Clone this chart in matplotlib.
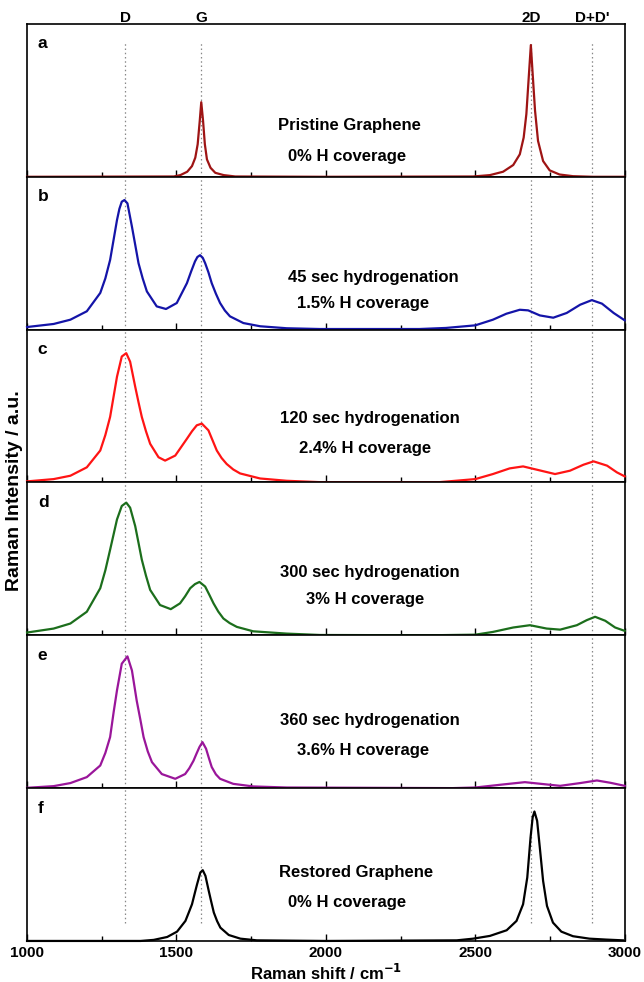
import matplotlib
matplotlib.use("Agg")
import matplotlib.pyplot as plt
from matplotlib.ticker import MultipleLocator

plt.rcParams['font.family'] = ['Liberation Sans', 'DejaVu Sans']
plt.rcParams['font.weight'] = 'bold'

# Raman spectra (x in cm-1, intensity in % of panel height)
x_a = [1000, 1491, 1513, 1536, 1552, 1563, 1571, 1578, 1583, 1589, 1595, 1602, 1614, 1630, 1658, 1697,
       2000, 2493, 2549, 2593, 2627, 2649, 2662, 2671, 2679, 2686, 2692, 2700, 2710, 2727, 2749,
       2782, 2827, 2894, 3000]
y_a = [0, 0.2, 1.1, 3.3, 7, 12.5, 21.3, 36.7, 48.8, 36.7, 21.3, 11.4, 5.9, 2.6, 1.1, 0.2,
       0, 0.2, 1.1, 3.3, 7.7, 14.7, 25.7, 41.1, 65.3, 86.2, 67.5, 43.3, 23.5, 10.3, 4.2,
       1.5, 0.4, 0, 0]

x_b = [1000, 1089, 1145, 1200, 1245, 1262, 1278, 1301, 1309, 1317, 1326, 1336, 1351, 1362, 1373,
       1387, 1401, 1434, 1465, 1501, 1535, 1549, 1562, 1570, 1579, 1588, 1596, 1607, 1618, 1632,
       1646, 1662, 1679, 1724, 1780, 1869, 1980, 2313, 2402, 2500, 2559, 2604, 2649, 2677, 2716,
       2761, 2806, 2851, 2890, 2924, 2963, 3000]
y_b = [1.7, 3.7, 6.5, 12, 24, 33.5, 45.6, 71.7, 79, 83.7, 84.8, 82.6, 67.4, 55.5, 43.5,
       33.5, 25, 15.2, 13.5, 17.4, 30.4, 38, 44.6, 47.5, 48.7, 47, 43.5, 37.5, 30.4, 23.5,
       17.4, 12.5, 8.7, 4.3, 2.2, 0.9, 0.4, 0.4, 1.1, 2.8, 6.5, 10.4, 13, 12.6, 9.3,
       7.8, 10.9, 16.3, 19.3, 17, 10.9, 6.1]

x_c = [1000, 1089, 1145, 1200, 1245, 1262, 1278, 1301, 1317, 1332, 1345, 1362, 1373, 1384, 1398,
       1412, 1440, 1462, 1496, 1535, 1552, 1568, 1585, 1607, 1621, 1635, 1651, 1668, 1690, 1713,
       1780, 1869, 1980, 2380, 2500, 2559, 2615, 2660, 2705, 2767, 2817, 2862, 2896, 2941, 2974, 3000]
y_c = [0.7, 2.2, 4.4, 9.9, 20.9, 31, 42.9, 69.2, 82.4, 84.6, 79, 62.6, 52.5, 42.9, 33.5,
       25.3, 16.5, 14.3, 17.6, 28.6, 33.5, 37.4, 38.5, 34.1, 27.5, 20.9, 16, 12.1, 8.5, 5.9,
       2.6, 1.1, 0.2, 0.2, 2.2, 5.5, 9.2, 10.5, 8.4, 5.5, 7.7, 11.6, 13.8, 11, 6.6, 4]

x_d = [1000, 1089, 1145, 1200, 1245, 1262, 1278, 1301, 1317, 1332, 1345, 1362, 1373, 1384, 1398,
       1412, 1445, 1481, 1512, 1529, 1546, 1562, 1577, 1596, 1610, 1624, 1640, 1657, 1678, 1702,
       1757, 1869, 1980, 2346, 2500, 2559, 2627, 2683, 2739, 2784, 2840, 2873, 2901, 2935, 2968, 3000]
y_d = [1.8, 4.4, 7.7, 15.4, 30.8, 42.5, 56, 75.8, 84.6, 86.8, 83.5, 71.4, 60.5, 49.5, 39,
       29.7, 19.8, 17.1, 20.9, 25.5, 30.8, 33.5, 34.9, 31.9, 26.5, 20.9, 15.5, 11, 8, 5.5,
       2.6, 1.1, 0.2, 0, 0.4, 2.2, 5.1, 6.6, 4.4, 3.7, 6.6, 9.9, 12.1, 9.5, 5.1, 2.9]

x_e = [1000, 1089, 1145, 1200, 1245, 1262, 1278, 1290, 1301, 1317, 1336, 1351, 1367, 1379, 1390,
       1404, 1418, 1451, 1496, 1529, 1543, 1557, 1567, 1577, 1587, 1599, 1608, 1618, 1632, 1646,
       1690, 1757, 1869, 2425, 2500, 2593, 2666, 2739, 2784, 2851, 2907, 2952, 3000]
y_e = [0.2, 1.3, 3.3, 7.2, 14.8, 23, 33.4, 50, 64, 81.4, 86.2, 77, 57.2, 45, 33.4,
       24, 17, 9.2, 6.1, 9.2, 13, 17.9, 22.5, 26.9, 30.1, 25.8, 20, 13.8, 9, 6.1,
       2.8, 1.1, 0.4, 0, 0.4, 2.4, 3.9, 2.4, 1.5, 3.3, 5, 3.5, 1.5]

x_f = [1000, 1380, 1424, 1469, 1502, 1530, 1541, 1552, 1561, 1569, 1580, 1588, 1597, 1608, 1616,
       1625, 1636, 1647, 1675, 1714, 1769, 2000, 2438, 2493, 2549, 2605, 2638, 2660, 2674, 2685,
       2692, 2698, 2707, 2716, 2727, 2740, 2760, 2788, 2827, 2882, 2938, 2994]
y_f = [0, 0, 0.7, 2.6, 6.1, 13.1, 18.5, 24, 31, 37.1, 44.8, 46.3, 42.6, 32.8, 26,
       18.6, 13, 8.7, 3.9, 1.5, 0.4, 0, 0.4, 1.5, 3.3, 7, 13.1, 24, 41.5, 67.7,
       80.8, 84.7, 78.6, 61.1, 39.3, 22.9, 12, 6.1, 3.1, 1.5, 0.9, 0.4]

panel_letters = ['a', 'b', 'c', 'd', 'e', 'f']
line1 = ['Pristine Graphene', '45 sec hydrogenation', '120 sec hydrogenation',
         '300 sec hydrogenation', '360 sec hydrogenation', 'Restored Graphene']
line2 = ['0% H coverage', '1.5% H coverage', '2.4% H coverage',
         '3% H coverage', '3.6% H coverage', '0% H coverage']
colors = ['#9e1414', '#1414a8', '#ff1414', '#1c6e1c', '#9a169a', '#000000']

band_names = ['D', 'G', '2D', "D+D'"]
band_pos = [1329, 1583, 2687, 2892]

xs = [x_a, x_b, x_c, x_d, x_e, x_f]
ys = [y_a, y_b, y_c, y_d, y_e, y_f]
# label placement (axes fraction, text baseline)
tx1 = [0.54, 0.58, 0.573, 0.573, 0.573, 0.55]
ty1 = [0.303, 0.314, 0.386, 0.381, 0.414, 0.418]
tx2 = [0.535, 0.563, 0.565, 0.565, 0.563, 0.536]
ty2 = [0.105, 0.141, 0.193, 0.207, 0.217, 0.223]

fig, axes = plt.subplots(6, 1, figsize=(6.44, 9.82), dpi=100, sharex=True)
fig.subplots_adjust(left=0.042, right=0.970, bottom=0.0418, top=0.9756, hspace=0)

for i, ax in enumerate(axes):
    ymin, ymax = 0, 1
    if i == 0:
        ymax = 0.88
    if i == 5:
        ymin = 0.12
    for p in band_pos:
        ax.axvline(p, ymin=ymin, ymax=ymax, color='#888888', lw=0.9,
                   linestyle=(0, (1.2, 2.2)), zorder=1)
    ax.plot(xs[i], ys[i], color=colors[i], lw=1.6, zorder=3, clip_on=False,
            solid_joinstyle='round')
    ax.set_xlim(1000, 3000)
    ax.set_ylim(0, 100)
    ax.set_yticks([])
    ax.xaxis.set_major_locator(MultipleLocator(500))
    ax.xaxis.set_minor_locator(MultipleLocator(250))
    ax.tick_params(axis='x', which='major', direction='in', length=5, width=1)
    ax.tick_params(axis='x', which='minor', direction='in', length=3.5, width=1)
    for s in ax.spines.values():
        s.set_linewidth(1.2)
    ax.text(0.018, 0.84, panel_letters[i], transform=ax.transAxes, fontsize=12.5,
            fontweight='bold', ha='left', va='baseline')
    ax.text(tx1[i], ty1[i], line1[i], transform=ax.transAxes, fontsize=12,
            fontweight='bold', ha='center', va='baseline')
    ax.text(tx2[i], ty2[i], line2[i], transform=ax.transAxes, fontsize=12,
            fontweight='bold', ha='center', va='baseline')

top = axes[0]
for name, p in zip(band_names, band_pos):
    top.text(p, 1.015, name, transform=top.get_xaxis_transform(), fontsize=11,
             fontweight='bold', ha='center', va='baseline')

axes[-1].set_xticks([1000, 1500, 2000, 2500, 3000])
axes[-1].set_xticklabels(['1000', '1500', '2000', '2500', '3000'], fontsize=11, fontweight='bold')
axes[-1].set_xlabel('Raman shift / cm$^{\\mathbf{-1}}$', fontsize=12, fontweight='bold', labelpad=2)
fig.text(0.022, 0.50, 'Raman Intensity / a.u.', rotation=90, fontsize=14,
         fontweight='bold', ha='center', va='center')

fig.savefig('out.png', dpi=100)
